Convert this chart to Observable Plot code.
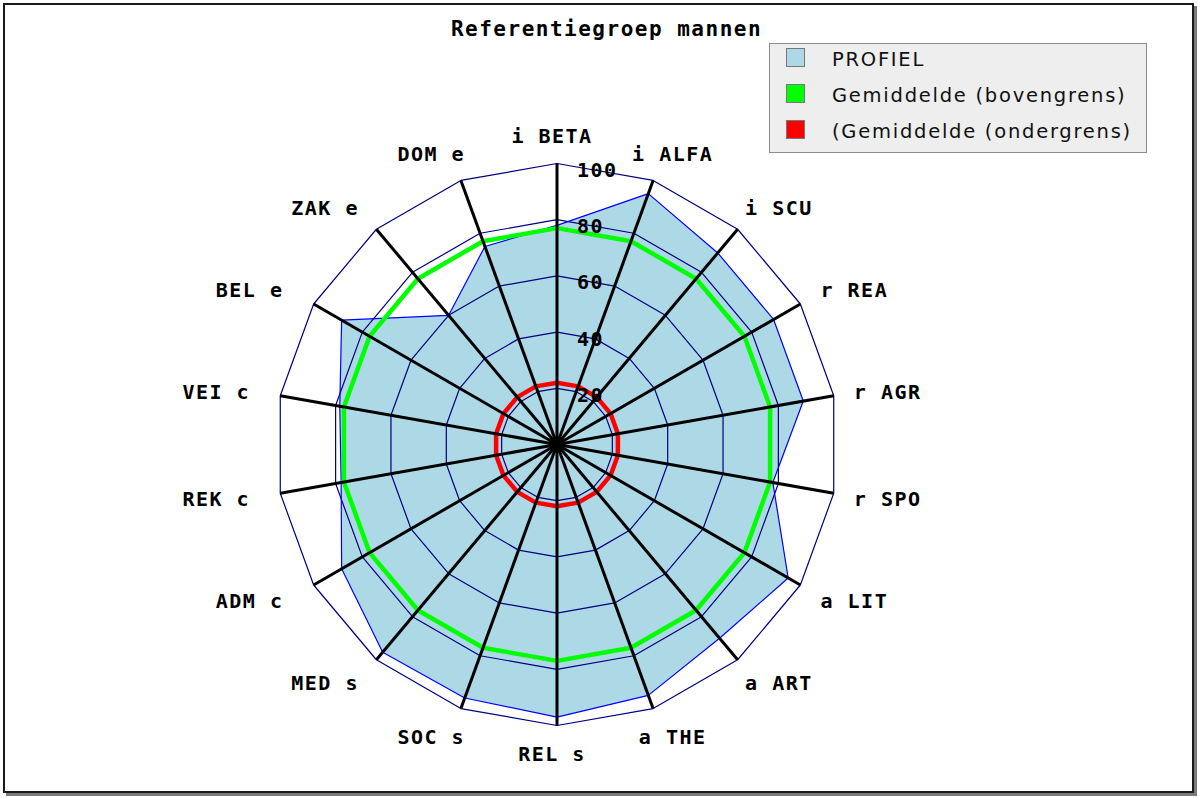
<!DOCTYPE html>
<html>
<head>
<meta charset="utf-8">
<script src="https://cdn.jsdelivr.net/npm/d3@7"></script>
<script src="https://cdn.jsdelivr.net/npm/@observablehq/plot@0.6"></script>
<style>
  html, body { margin: 0; padding: 0; background: #ffffff; }
  #wrap { position: relative; width: 1198px; height: 798px; overflow: hidden; }
  #chart { position: absolute; left: 0; top: 0; }
  #border { position: absolute; left: 3px; top: 3px; width: 1187px; height: 786px;
            border: 2px solid #1a1a1a; box-shadow: 3px 3px 0 #7a7a7a; pointer-events: none; }
  #legend { position: absolute; left: 769px; top: 43px; width: 378px; height: 110px;
            background: #eeeeee; border: 1.5px solid #8c8c8c; box-sizing: border-box;
            font-family: "DejaVu Sans", sans-serif; font-size: 19.5px; letter-spacing: 1.75px; color: #111; }
  .item { position: absolute; left: 16px; height: 20px; }
  .sw { position: absolute; left: 0; top: 0; width: 17px; height: 17px; border: 1.5px solid #777; }
  .lab { position: absolute; left: 46px; top: 0px; white-space: nowrap; line-height: 24px; }
</style>
</head>
<body>
<div id="wrap">
  <div id="chart"></div>
  <div id="legend"></div>
  <div id="border"></div>
</div>
<script>
// ---- data ----
const titleText = "Referentiegroep mannen";
const axes = ["i BETA","i ALFA","i SCU","r REA","r AGR","r SPO","a LIT","a ART","a THE",
              "REL s","SOC s","MED s","ADM c","REK c","VEI c","BEL e","ZAK e","DOM e"];
const profiel = [78, 95, 89, 89, 89, 78, 95, 90, 95, 97, 96, 96.5, 88.5, 78, 78.5, 88.5, 60, 75];
const bovengrens = [77, 77, 77, 77, 77, 77, 77, 77, 77, 77, 77, 77, 77, 77, 77, 77, 77, 77];
const ondergrens = [22, 22, 22, 22, 22, 22, 22, 22, 22, 22, 22, 22, 22, 22, 22, 22, 22, 22];
const ringTicks = [20, 40, 60, 80, 100];
const legendItems = ["PROFIEL", "Gemiddelde (bovengrens)", "(Gemiddelde (ondergrens)"];
const legendColors = ["#add8e6", "#00ff00", "#ff0000"];

// ---- geometry helpers ----
const W = 1198, H = 798;
const cx = 556.5, cy = 444, R = 281; // center and 100-radius in px
const u = 100 / R;                   // px -> data units
const n = axes.length;
const ang = i => i * 2 * Math.PI / n;
const pts = (vals, key) => vals.map((v, i) => ({ x: v * Math.sin(ang(i)), y: v * Math.cos(ang(i)), k: key }));

const profPts = pts(profiel, "p");
const bovenPts = pts(bovengrens, "b");
const onderPts = pts(ondergrens, "o");
const ringPts = ringTicks.flatMap(t => pts(axes.map(() => t), t));
const spokes = axes.map((a, i) => ({ x1: 0, y1: 0, x2: 100 * Math.sin(ang(i)), y2: 100 * Math.cos(ang(i)) }));
// axis titles placed just beyond each spoke end
const labels = axes.map((a, i) => {
  const s = Math.sin(ang(i)), c = Math.cos(ang(i));
  const offX = Math.sign(Math.round(s * 1e6)) * Math.min(72 * Math.abs(s), 59);
  const offY = Math.sign(Math.round(c * 1e6)) * 28 * Math.min(1, Math.abs(c) * 1.05);
  return { name: a, x: 100 * s + offX * u, y: 100 * c + offY * u };
});

const mono = "DejaVu Sans Mono";

const chart = Plot.plot({
  width: W, height: H, margin: 0,
  style: { background: "transparent", letterSpacing: "1.5px" },
  x: { domain: [-cx * u, (W - cx) * u], range: [0, W], axis: null },
  y: { domain: [-(H - cy) * u, cy * u], range: [H, 0], axis: null },
  marks: [
    Plot.line(profPts, { x: "x", y: "y", curve: "linear-closed", fill: "#add8e6", stroke: "none" }),
    Plot.line(ringPts, { x: "x", y: "y", z: "k", curve: "linear-closed", stroke: "#000080", strokeWidth: 1.2 }),
    Plot.line(profPts, { x: "x", y: "y", curve: "linear-closed", stroke: "#0000ff", strokeWidth: 1.2 }),
    Plot.line(bovenPts, { x: "x", y: "y", curve: "linear-closed", stroke: "#00ff00", strokeWidth: 4.5 }),
    Plot.line(onderPts, { x: "x", y: "y", curve: "linear-closed", stroke: "#ff0000", strokeWidth: 4.5 }),
    Plot.link(spokes, { x1: "x1", y1: "y1", x2: "x2", y2: "y2", stroke: "black", strokeWidth: 3 }),
    Plot.dot([{ x: 0, y: 0 }], { x: "x", y: "y", r: 8, fill: "black" }),
    Plot.text(ringTicks, { x: () => 0, y: d => d, text: d => String(d), textAnchor: "start", dx: 20, dy: 7,
      fontFamily: mono, fontSize: 20, fontWeight: "bold", fill: "#000" }),
    Plot.text(labels, { x: "x", y: "y", text: "name", textAnchor: "middle", dx: -5, dy: 1.5,
      fontFamily: mono, fontSize: 20, fontWeight: "bold", fill: "#000" }),
    Plot.text([titleText], { frameAnchor: "top", lineAnchor: "middle", dx: 7, dy: 29, text: d => d,
      fontFamily: mono, fontSize: 21, fontWeight: "bold", fill: "#000" })
  ]
});
document.getElementById("chart").appendChild(chart);

// ---- legend ----
const leg = document.getElementById("legend");
legendItems.forEach((name, i) => {
  const it = document.createElement("div");
  it.className = "item";
  it.style.top = (4 + i * 36) + "px";
  const sw = document.createElement("div");
  sw.className = "sw";
  sw.style.background = legendColors[i];
  const lb = document.createElement("div");
  lb.className = "lab";
  lb.textContent = name;
  it.appendChild(sw); it.appendChild(lb);
  leg.appendChild(it);
});
</script>
</body>
</html>
